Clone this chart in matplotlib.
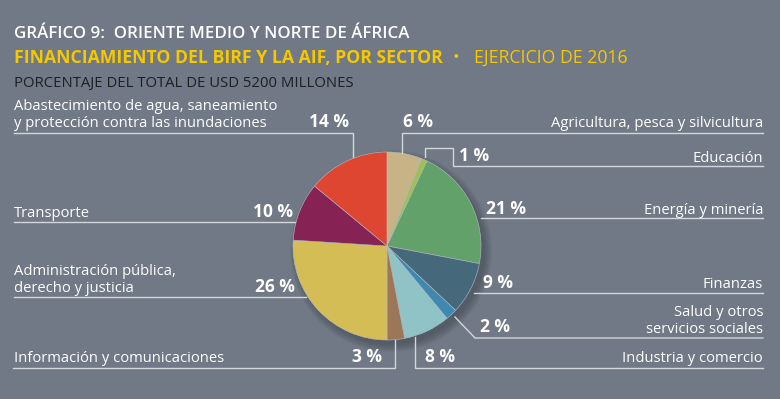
import matplotlib
matplotlib.use('Agg')
import matplotlib.pyplot as plt
from matplotlib.patches import Circle

plt.rcParams['font.family'] = ['Open Sans', 'DejaVu Sans']

# data (clockwise from 12 o'clock)
sectors = ['Agricultura, pesca y silvicultura', 'Educación', 'Energía y minería',
           'Finanzas', 'Salud y otros\nservicios sociales', 'Industria y comercio',
           'Información y comunicaciones', 'Administración pública,\nderecho y justicia',
           'Transporte', 'Abastecimiento de agua, saneamiento\ny protección contra las inundaciones']
shares = [6, 1, 21, 9, 2, 8, 3, 26, 10, 14]
colors = ['#c8b386', '#9fbf58', '#62a26a', '#45687b', '#3f88b2', '#8fc3c6',
          '#9b7657', '#d5bd55', '#862254', '#df4632']

BG = '#707985'
LINE = '#d3d6db'
CX, CY, R = 387, 246, 94

# layout per sector: side, name pos (x, baseline y), pct pos, leader path (pixels)
layout = [
    ('R', (763, 127), (403, 127), [(763, 133), (402, 133), (402, 153)]),
    ('R', (763, 162), (459, 161), [(763, 166), (453, 166), (453, 148), (425, 148), (425, 157)]),
    ('R', (763, 214), (486, 214), [(763, 218), (481, 218)]),
    ('R', (763, 288), (483, 288), [(763, 293), (474, 293)]),
    ('R', (763, 333), (480, 332), [(763, 338), (475, 338), (455, 317)]),
    ('R', (763, 362), (425, 362), [(763, 368), (415, 368), (415, 337)]),
    ('L', (14, 362), (382, 362), [(13, 368), (395, 368), (395, 340)]),
    ('L', (14, 292), (295, 292), [(14, 297), (306, 297)]),
    ('L', (14, 217), (293, 217), [(14, 222), (295, 222)]),
    ('L', (14, 127), (349, 127), [(14, 133), (353, 133), (353, 157)]),
]

fig = plt.figure(figsize=(7.8, 3.99), dpi=100)
fig.patch.set_facecolor(BG)
ax = fig.add_axes([0, 0, 1, 1])
ax.set_facecolor(BG)

# soft shadow
for i in range(10):
    ax.add_patch(Circle((CX + 4, CY + 5), R + 7 - i * 0.9, color='#3a414b',
                        alpha=0.06, lw=0, zorder=1))

# y axis runs downward, so start at -90 and go counterclock in data space
wedges, _ = ax.pie(shares, colors=colors, startangle=-90, counterclock=True,
                   center=(CX, CY), radius=R,
                   wedgeprops=dict(linewidth=0.4, edgecolor='#b8bcc2'))
for w in wedges:
    w.set_zorder(2)

ax.set_xlim(0, 780)
ax.set_ylim(399, 0)
ax.set_aspect('auto')
ax.axis('off')

for name, v, (side, npos, ppos, path) in zip(sectors, shares, layout):
    xs = [p[0] for p in path]
    ys = [p[1] for p in path]
    ax.plot(xs, ys, color=LINE, lw=1.0, solid_joinstyle='miter', zorder=3)
    if side == 'R':
        ax.text(npos[0], npos[1], name, ha='right', va='baseline', color='white',
                fontsize=10.6, linespacing=1.2, multialignment='right')
        ax.text(ppos[0], ppos[1], f'{v} %', ha='left', va='baseline', color='white',
                fontsize=12.5, fontweight='bold')
    else:
        ax.text(npos[0], npos[1], name, ha='left', va='baseline', color='white',
                fontsize=10.6, linespacing=1.2)
        ax.text(ppos[0], ppos[1], f'{v} %', ha='right', va='baseline', color='white',
                fontsize=12.5, fontweight='bold')

# titles
ax.text(14, 38, 'GRÁFICO 9:  ORIENTE MEDIO Y NORTE DE ÁFRICA', color='white',
        fontsize=12.2, fontweight='semibold', va='baseline')
ax.text(14, 63, 'FINANCIAMIENTO DEL BIRF Y LA AIF, POR SECTOR', color='#f5c800',
        fontsize=12.7, fontweight='bold', va='baseline')
ax.text(456, 63, '•', color='#f5c800', fontsize=12.7, va='baseline', ha='center')
ax.text(474, 63, 'EJERCICIO DE 2016', color='#f5c800', fontsize=12.7, va='baseline')
ax.text(14, 87, 'PORCENTAJE DEL TOTAL DE USD 5200 MILLONES', color='#1c1f24',
        fontsize=10.7, va='baseline')

fig.savefig('out.png', dpi=100, facecolor=BG)
